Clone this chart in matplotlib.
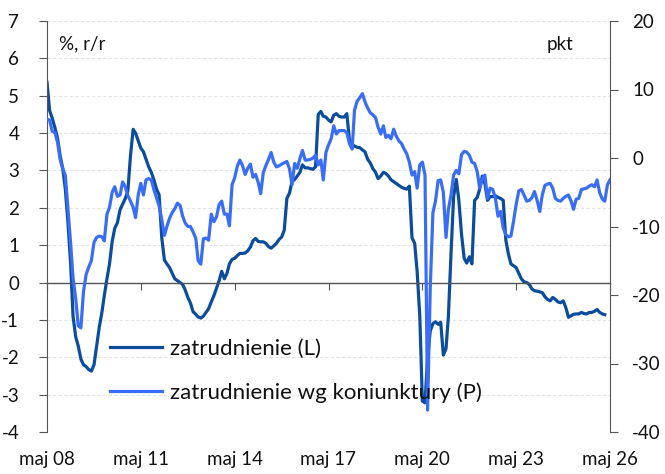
import matplotlib
matplotlib.use("Agg")
import matplotlib.pyplot as plt
import pandas as pd

# zatrudnienie (L), % r/r, monthly from May 2008
dark = [5.36, 4.6, 4.4, 4.15, 3.86, 3.4, 3.05, 2.5, 1.6, 0.5,
        -0.9, -1.45, -1.7, -2.05, -2.2, -2.25, -2.33, -2.37, -2.2, -1.7,
        -1.2, -0.8, -0.35, 0.1, 0.5, 1.1, 1.45, 1.6, 1.95, 2.1,
        2.25, 2.45, 3.4, 4.1, 4.0, 3.8, 3.6, 3.5, 3.3, 3.1,
        2.95, 2.75, 2.5, 2.35, 1.2, 0.6, 0.5, 0.4, 0.25, 0.1,
        0.05, 0.0, -0.05, -0.2, -0.4, -0.55, -0.78, -0.85, -0.92, -0.95,
        -0.9, -0.8, -0.7, -0.52, -0.35, -0.15, 0.05, 0.3, 0.1, 0.25,
        0.5, 0.62, 0.65, 0.72, 0.78, 0.78, 0.79, 0.85, 0.95, 1.12,
        1.18, 1.1, 1.09, 1.09, 1.05, 0.96, 0.92, 0.98, 1.05, 1.15,
        1.22, 1.4, 2.25, 2.4, 2.7, 2.76, 2.85, 2.95, 3.15, 3.07,
        3.07, 3.05, 3.03, 3.1, 4.5, 4.58, 4.45, 4.43, 4.35, 4.3,
        4.48, 4.52, 4.45, 4.43, 4.43, 4.52, 3.8, 3.7, 3.65, 3.62,
        3.61, 3.55, 3.5, 3.3, 3.2, 3.05, 2.95, 2.78, 2.85, 2.95,
        2.92, 2.85, 2.75, 2.7, 2.65, 2.6, 2.55, 2.52, 2.5, 2.58,
        1.2, 1.05, 0.3, -0.9, -3.17, -3.22, -2.0, -1.3, -1.1, -1.05,
        -1.12, -1.06, -1.94, -1.77, -0.9, 0.8, 2.3, 2.76, 2.2, 1.3,
        0.65, 0.52, 0.69, 0.5, 2.2, 2.28, 2.5, 2.85, 2.65, 2.2,
        2.3, 2.3, 2.32, 2.28, 2.25, 2.2, 1.13, 0.75, 0.5, 0.45,
        0.4, 0.25, 0.1, 0.02, 0.0, -0.05, -0.17, -0.22, -0.23, -0.25,
        -0.27, -0.38, -0.45, -0.49, -0.4, -0.45, -0.52, -0.54, -0.49, -0.67,
        -0.93, -0.89, -0.85, -0.84, -0.84, -0.8, -0.83, -0.84, -0.8, -0.8,
        -0.77, -0.72, -0.8, -0.84, -0.86]

# zatrudnienie wg koniunktury (P), pkt, monthly from May 2008
light = [5.7, 5.5, 3.9, 3.7, 2.3, -0.2, -1.6, -2.5, -7.5, -12.5,
         -17.5, -20.5, -24.5, -24.8, -19.5, -17.0, -15.9, -15.0, -12.3, -11.6,
         -11.4, -11.5, -12.1, -8.2, -7.2, -5.0, -4.2, -5.6, -5.4, -3.5,
         -4.2, -5.5, -6.3, -7.2, -8.7, -5.4, -3.7, -5.4, -3.2, -3.0,
         -3.2, -4.6, -5.8, -7.0, -9.0, -11.3, -10.0, -8.8, -8.0, -7.4,
         -6.6, -6.9, -8.5, -9.5, -10.0, -10.0, -10.8, -11.7, -15.0, -15.5,
         -11.8, -11.7, -12.0, -8.2, -9.3, -8.6, -6.8, -6.3, -8.2, -8.2,
         -9.9, -3.9, -2.9, -1.2, -0.3, -1.1, -2.4, -1.5, -0.9, -2.8,
         -2.4, -3.6, -5.2, -2.1, -1.1, -0.2, 0.8, -0.6, -1.3, -1.15,
         -0.9, -0.7, -0.5, -1.6, -3.9, -0.8, -1.5, -0.1, 1.1, -0.3,
         -0.3, -0.2, 0.0, 0.4, -1.0, -0.3, -3.2, 0.8, 1.9, 2.8,
         4.7, 3.5, 4.0, 4.0, 4.0, 3.7, 2.1, 1.3, 7.0, 8.3,
         8.8, 9.4, 8.2, 7.3, 6.6, 6.3, 5.9, 4.5, 3.5, 4.7,
         3.0, 3.3, 2.8, 4.2, 3.2, 2.5, 2.1, 1.3, 0.6, -0.6,
         -2.5, -2.0, -4.4, -1.0, -0.6, -2.5, -36.8, -19.0, -8.0, -6.3,
         -3.3, -3.2, -5.0, -11.6, -7.5, -5.4, -2.5, -1.8, -2.3, 0.5,
         0.96, 0.86, 0.4, -0.6, -0.8, -2.0, -4.4, -3.0, -2.5, -5.9,
         -4.4, -4.6, -5.9, -8.5, -7.8, -10.2, -11.2, -11.5, -11.4, -9.2,
         -6.8, -4.8, -4.6, -5.4, -6.3, -6.2, -5.8, -4.9, -6.2, -7.8,
         -5.4, -4.0, -3.8, -3.7, -4.4, -5.9, -6.2, -6.3, -5.9, -5.6,
         -5.4, -6.3, -7.5, -6.0, -5.9, -4.6, -4.5, -4.4, -4.1, -3.9,
         -4.2, -3.2, -5.1, -6.0, -6.3, -3.9, -3.2]

start = "2008-05-01"
tick_years = [2008, 2011, 2014, 2017, 2020, 2023, 2026]
tick_labels = ["maj 08", "maj 11", "maj 14", "maj 17", "maj 20", "maj 23", "maj 26"]
left_ticks = list(range(-4, 8))
right_ticks = list(range(-40, 21, 10))

label_dark = "zatrudnienie (L)"
label_light = "zatrudnienie wg koniunktury (P)"

plt.rcParams['font.family'] = ['Lato', 'DejaVu Sans']
FS = 13.5
FS_LEG = 16
C_DARK = "#0B4D9C"
C_LIGHT = "#3A6DF5"
C_AX = "#555555"

dates_dark = pd.date_range(start, periods=len(dark), freq="MS")
dates_light = pd.date_range(start, periods=len(light), freq="MS")
ticks = [pd.Timestamp(f"{y}-05-01") for y in tick_years]

fig = plt.figure(figsize=(6.65, 4.74), dpi=100)
ax = fig.add_axes([47/665, 1-432/474, (610-47)/665, (432-21)/474])
ax2 = ax.twinx()

ax.plot(dates_dark, dark, color=C_DARK, lw=2.3, label=label_dark, solid_joinstyle="round")
ax2.plot(dates_light, light, color=C_LIGHT, lw=2.3, label=label_light, solid_joinstyle="round")

ax.set_ylim(-4, 7)
ax2.set_ylim(-40, 20)
ax.set_xlim(ticks[0], ticks[-1])

ax.set_yticks(left_ticks)
ax.set_yticklabels([str(t) for t in left_ticks])
ax2.set_yticks(right_ticks)
ax2.set_yticklabels([str(t) for t in right_ticks])

for t in left_ticks:
    ax.axhline(t, color="#e3e3e3", lw=0.8, ls=(0, (3, 2)), zorder=0)

# x axis on zero line
for a in (ax, ax2):
    a.spines["top"].set_visible(False)
ax.spines["bottom"].set_position(("data", 0))
ax.spines["bottom"].set_color(C_AX)
ax.spines["bottom"].set_linewidth(1.0)
ax2.spines["bottom"].set_visible(False)
ax.set_xticks(ticks)
ax.tick_params(axis="x", direction="out", length=5, color=C_AX, labelbottom=False)

sec = ax.secondary_xaxis("bottom")
sec.set_xticks(ticks)
sec.set_xticklabels(tick_labels)
sec.spines["bottom"].set_visible(False)
sec.tick_params(axis="x", length=0, pad=14, labelsize=FS, labelcolor="#111111")

ax.spines["left"].set_color(C_AX)
ax2.spines["right"].set_color(C_AX)
ax.spines["right"].set_visible(False)
ax2.spines["left"].set_visible(False)

ax.tick_params(axis="y", direction="out", length=6, color=C_AX, pad=14, labelsize=FS, labelcolor="#111111")
ax2.tick_params(axis="y", direction="out", length=6, color=C_AX, pad=10, labelsize=FS, labelcolor="#111111")

ax.text(0.022, 0.93, "%, r/r", transform=ax.transAxes, fontsize=FS, color="#111111")
ax2.text(0.935, 0.93, "pkt", transform=ax.transAxes, fontsize=FS, color="#111111", ha="right")

h1, l1 = ax.get_legend_handles_labels()
h2, l2 = ax2.get_legend_handles_labels()
leg = ax2.legend(h1 + h2, l1 + l2, loc="lower left", bbox_to_anchor=(0.097, 0.05),
                 frameon=False, fontsize=FS_LEG, handlelength=2.3, handletextpad=0.4,
                 labelspacing=1.05, borderaxespad=0)
for t in leg.get_texts():
    t.set_color("#111111")

fig.savefig("out.png", dpi=100)
